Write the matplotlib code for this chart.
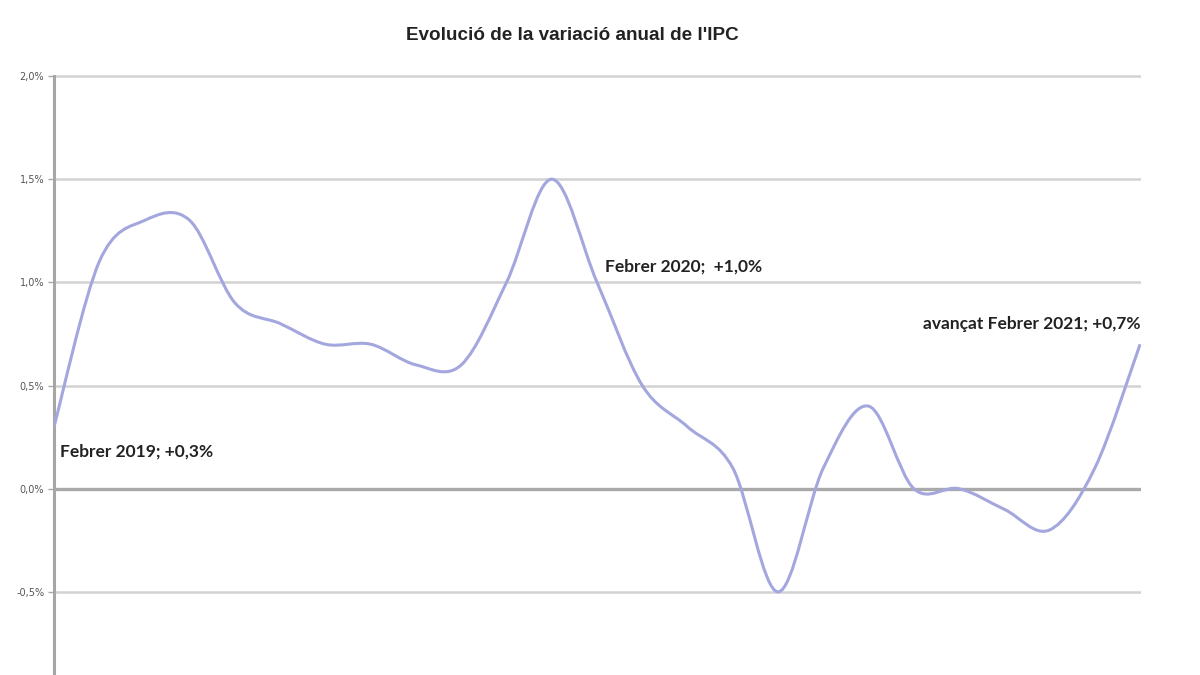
import numpy as np
import matplotlib
matplotlib.use('Agg')
import matplotlib.pyplot as plt
from matplotlib.path import Path
from matplotlib.patches import PathPatch

# monthly annual CPI variation, Feb 2019 -> Feb 2021
months = ['02/2019', '03/2019', '04/2019', '05/2019', '06/2019', '07/2019', '08/2019',
          '09/2019', '10/2019', '11/2019', '12/2019', '01/2020', '02/2020', '03/2020',
          '04/2020', '05/2020', '06/2020', '07/2020', '08/2020', '09/2020', '10/2020',
          '11/2020', '12/2020', '01/2021', '02/2021']
ipc = [0.3, 1.1, 1.3, 1.3, 0.9, 0.8, 0.7, 0.7, 0.6, 0.6, 1.0, 1.5, 1.0,
       0.5, 0.3, 0.1, -0.5, 0.1, 0.4, 0.0, 0.0, -0.1, -0.2, 0.1, 0.7]
y_ticks = [-0.5, 0.0, 0.5, 1.0, 1.5, 2.0]
labels = {0: 'Febrer 2019; +0,3%', 12: 'Febrer 2020;  +1,0%', 24: 'avançat Febrer 2021; +0,7%'}


def smooth_path(x, y):
    # excel-like smoothed line: catmull-rom turned into cubic bezier segments
    n = len(x)
    pts = np.column_stack([x, y]).astype(float)
    verts = [pts[0]]
    codes = [Path.MOVETO]
    for i in range(n - 1):
        p_prev = pts[max(i - 1, 0)]
        p_next2 = pts[min(i + 2, n - 1)]
        c1 = pts[i] + (pts[i + 1] - p_prev) / 6
        c2 = pts[i + 1] - (p_next2 - pts[i]) / 6
        verts += [c1, c2, pts[i + 1]]
        codes += [Path.CURVE4] * 3
    return Path(verts, codes)


fig = plt.figure(figsize=(12, 6.75), dpi=100)
y_bottom, y_top = -0.903, 2.03
top_px = 76 - (y_top - 2.0) * 206
ax = fig.add_axes([54 / 1200, 0, (1141 - 54) / 1200, 1 - top_px / 675])
ax.set_xlim(0, 24.02)
ax.set_ylim(y_bottom, y_top)

for t in y_ticks:
    if t == 0:
        ax.axhline(t, color='#a9a9a9', lw=2.4, zorder=1)
    else:
        ax.axhline(t, color='#d2d2d2', lw=1.8, zorder=1)

x = np.arange(len(ipc))
ax.add_patch(PathPatch(smooth_path(x, ipc), facecolor='none', edgecolor='#a3a7de', lw=2.2, zorder=3))

for spine in ['top', 'right', 'bottom']:
    ax.spines[spine].set_visible(False)
ax.spines['left'].set_color('#a6a6a6')
ax.spines['left'].set_linewidth(2.2)
ax.spines['left'].set_bounds(y_bottom, 2.0)

ax.set_xticks([])
ax.set_yticks(y_ticks)
ax.set_yticklabels([f'{t:.1f}%'.replace('.', ',') for t in y_ticks])
ax.tick_params(axis='y', length=4, width=1, color='#a6a6a6', labelsize=7,
               labelcolor='#555555', pad=3)

fig.text(0.477, 1 - 35 / 675, "Evolució de la variació anual de l'IPC", ha='center', va='center',
         fontsize=13.6, fontweight='bold', family='Liberation Sans', color='#222222')

offsets = {0: (4, -18, 'left'), 12: (6, 11.5, 'left'), 24: (0, 14.5, 'right')}
for i, txt in labels.items():
    dx, dy, ha = offsets[i]
    ax.annotate(txt, xy=(x[i], ipc[i]), xytext=(dx, dy), textcoords='offset points',
                ha=ha, va='center', fontsize=12.5, fontweight='bold', family='Lato',
                color='#222222', annotation_clip=False)

fig.savefig('out.png', dpi=100)
